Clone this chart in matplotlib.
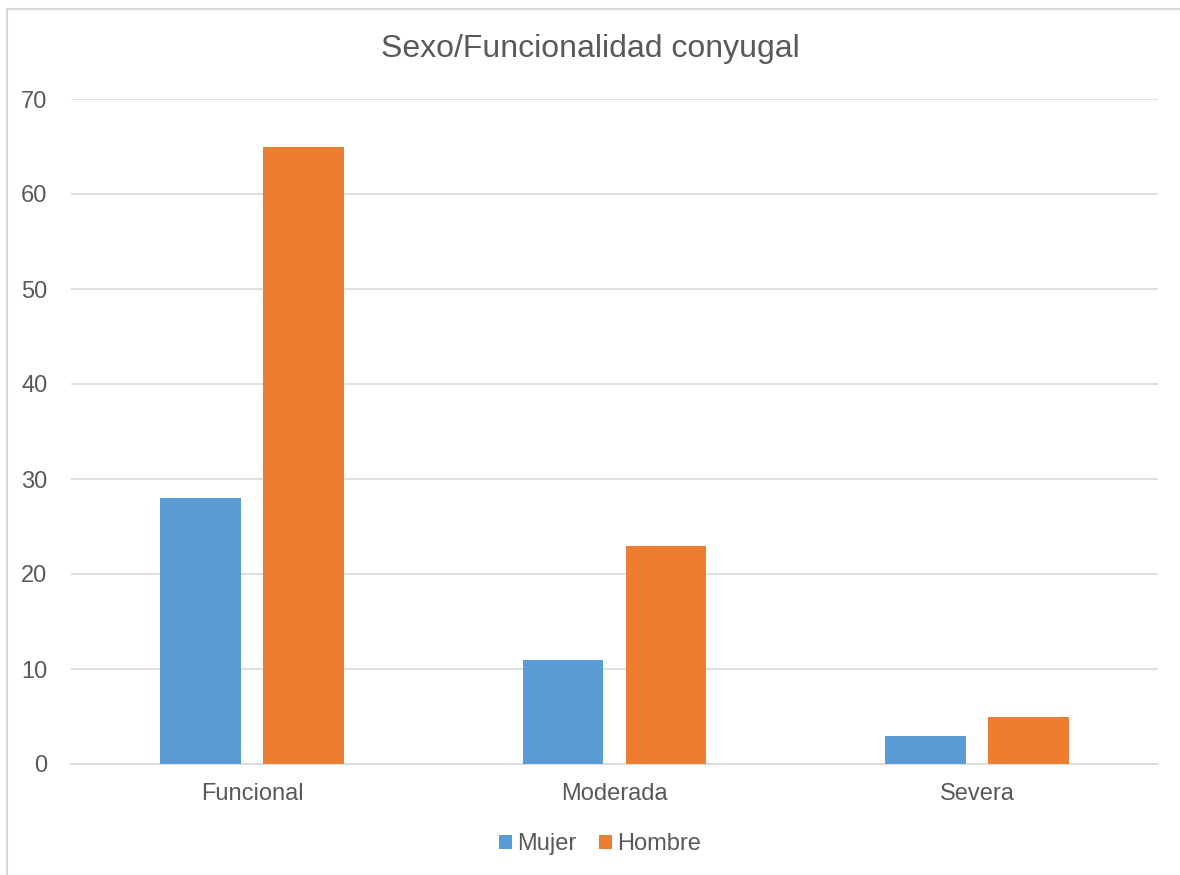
import matplotlib
matplotlib.use("Agg")
import matplotlib.pyplot as plt
import numpy as np
from matplotlib.patches import Rectangle

categories = ["Funcional", "Moderada", "Severa"]
mujer = [28, 11, 3]
hombre = [65, 23, 5]
yticks = [0, 10, 20, 30, 40, 50, 60, 70]

plt.rcParams['font.family'] = ['Liberation Sans', 'DejaVu Sans']

fig = plt.figure(figsize=(11.8, 8.75), dpi=100)
ax = fig.add_axes([71 / 1180, 1 - 764 / 875, (1158 - 71) / 1180, (764 - 99) / 875])

# light frame like the spreadsheet chart area (only left and top visible)
fig.patches.append(Rectangle((7 / 1180, -0.01), 1.2, 1 - 9 / 875 + 0.01,
                             transform=fig.transFigure, fill=False,
                             edgecolor="#d9d9d9", linewidth=1.5))

x = np.arange(len(categories))
w = 0.223
off = (w + 0.061) / 2
ax.bar(x - off, mujer, w, color="#5b9bd5", label="Mujer", zorder=3)
ax.bar(x + off, hombre, w, color="#ed7d31", label="Hombre", zorder=3)

ax.set_xlim(-0.5, 2.5)
ax.set_ylim(0, 70)
ax.set_yticks(yticks)
ax.set_xticks(x)
ax.set_xticklabels(categories)
ax.grid(axis="y", color="#d9d9d9", linewidth=1.2, zorder=0)
for s in ["top", "right", "left"]:
    ax.spines[s].set_visible(False)
ax.spines["bottom"].set_color("#d9d9d9")
ax.spines["bottom"].set_linewidth(1.2)
ax.tick_params(axis="both", length=0, labelsize=17, colors="#595959")
ax.tick_params(axis="y", pad=17)
ax.tick_params(axis="x", pad=14)

fig.text(0.5, 1 - 49 / 875, "Sexo/Funcionalidad conyugal", ha="center", va="center",
         fontsize=23, color="#595959")

ax.legend(loc="center", bbox_to_anchor=(0.5 + 10 / 1180, 1 - 844 / 875),
          bbox_transform=fig.transFigure,
          ncol=2, frameon=False, fontsize=17, handlelength=0.55, handleheight=0.55,
          handletextpad=0.2, columnspacing=1.0, labelcolor="#595959")

fig.savefig("out.png", dpi=100)
